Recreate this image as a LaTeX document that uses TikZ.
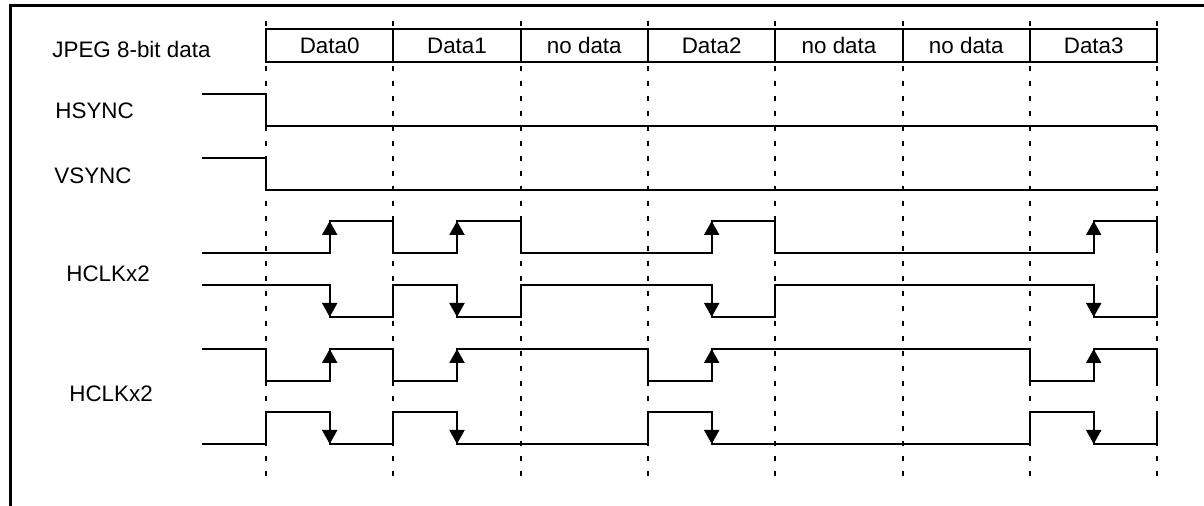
\documentclass[tikz,border=0pt]{standalone}
\usepackage{fontspec}
\setmainfont{Liberation Sans}
\usetikzlibrary{arrows.meta}
\begin{document}
\begin{tikzpicture}[x={(0.5pt,0)},y={(0,-0.5pt)},
  sig/.style={line width=1pt,line join=miter},
  gridline/.style={line width=1pt,dash pattern=on 2.5pt off 5pt},
  arr/.style={line width=1pt,-{Triangle[length=7pt,width=7.5pt]}},
  lbl/.style={font=\fontsize{11.2}{13}\selectfont,anchor=base west,inner sep=0pt},
  dlbl/.style={font=\fontsize{11.2}{13}\selectfont,anchor=base,inner sep=0pt}]
\useasboundingbox (0,0) rectangle (1204,506);
% frame
\draw[line width=1.5pt] (10,506) -- (10,6) -- (1204,6);
% dashed time markers
\foreach \xx in {266,393.3,520.7,648,775.3,902.7,1030,1157.3}
  \draw[gridline] (\xx,21) -- (\xx,477);
% data bus
\draw[sig] (266,29) rectangle (1157.3,62);
\foreach \xx in {393.3,520.7,648,775.3,902.7,1030}
  \draw[sig] (\xx,29) -- (\xx,62);
\node[dlbl] (d0) at (329.7,53.3) {Data0};
\node[dlbl] (d1) at (457,53.3) {Data1};
\node[dlbl] (d2) at (584.3,53.3) {no data};
\node[dlbl] (d3) at (711.7,53.3) {Data2};
\node[dlbl] (d4) at (839,53.3) {no data};
\node[dlbl] (d5) at (966.3,53.3) {no data};
\node[dlbl] (d6) at (1093.7,53.3) {Data3};
% labels
\node[lbl] (ljpeg) at (52,57.3) {JPEG 8-bit data};
\node[lbl] (lhs) at (55,118.3) {HSYNC};
\node[lbl] (lvs) at (54,183.3) {VSYNC};
\node[lbl] (lc1) at (66,281.7) {HCLKx2};
\node[lbl] (lc2) at (69,401.7) {HCLKx2};
% HSYNC / VSYNC
\draw[sig] (202,94) -- (266,94) -- (266,126) -- (1157.3,126);
\draw[sig] (202,158) -- (266,158) -- (266,190) -- (1157.3,190);
% clock pair 1
\draw[sig] (202,253) -| (329.7,221) -| (393.3,253) -| (457,221) -| (520.7,253) -| (711.7,221) -| (775.3,253) -| (1093.7,221) -| (1157.3,253);
\draw[sig] (202,285) -| (329.7,317) -| (393.3,285) -| (457,317) -| (520.7,285) -| (711.7,317) -| (775.3,285) -| (1093.7,317) -| (1157.3,285);
% clock pair 2
\draw[sig] (202,349) -| (266,381) -| (329.7,349) -| (393.3,381) -| (457,349) -| (648,381) -| (711.7,349) -| (1030,381) -| (1093.7,349) -| (1157.3,381);
\draw[sig] (202,444) -| (266,412) -| (329.7,444) -| (393.3,412) -| (457,444) -| (648,412) -| (711.7,444) -| (1030,412) -| (1093.7,444) -| (1157.3,412);
% edge arrows
\foreach \xx in {329.7,457,711.7,1093.7}{
  \draw[arr] (\xx,253) -- (\xx,221);
  \draw[arr] (\xx,285) -- (\xx,317);
  \draw[arr] (\xx,381) -- (\xx,349);
  \draw[arr] (\xx,412) -- (\xx,444);
}
\end{tikzpicture}
\end{document}
